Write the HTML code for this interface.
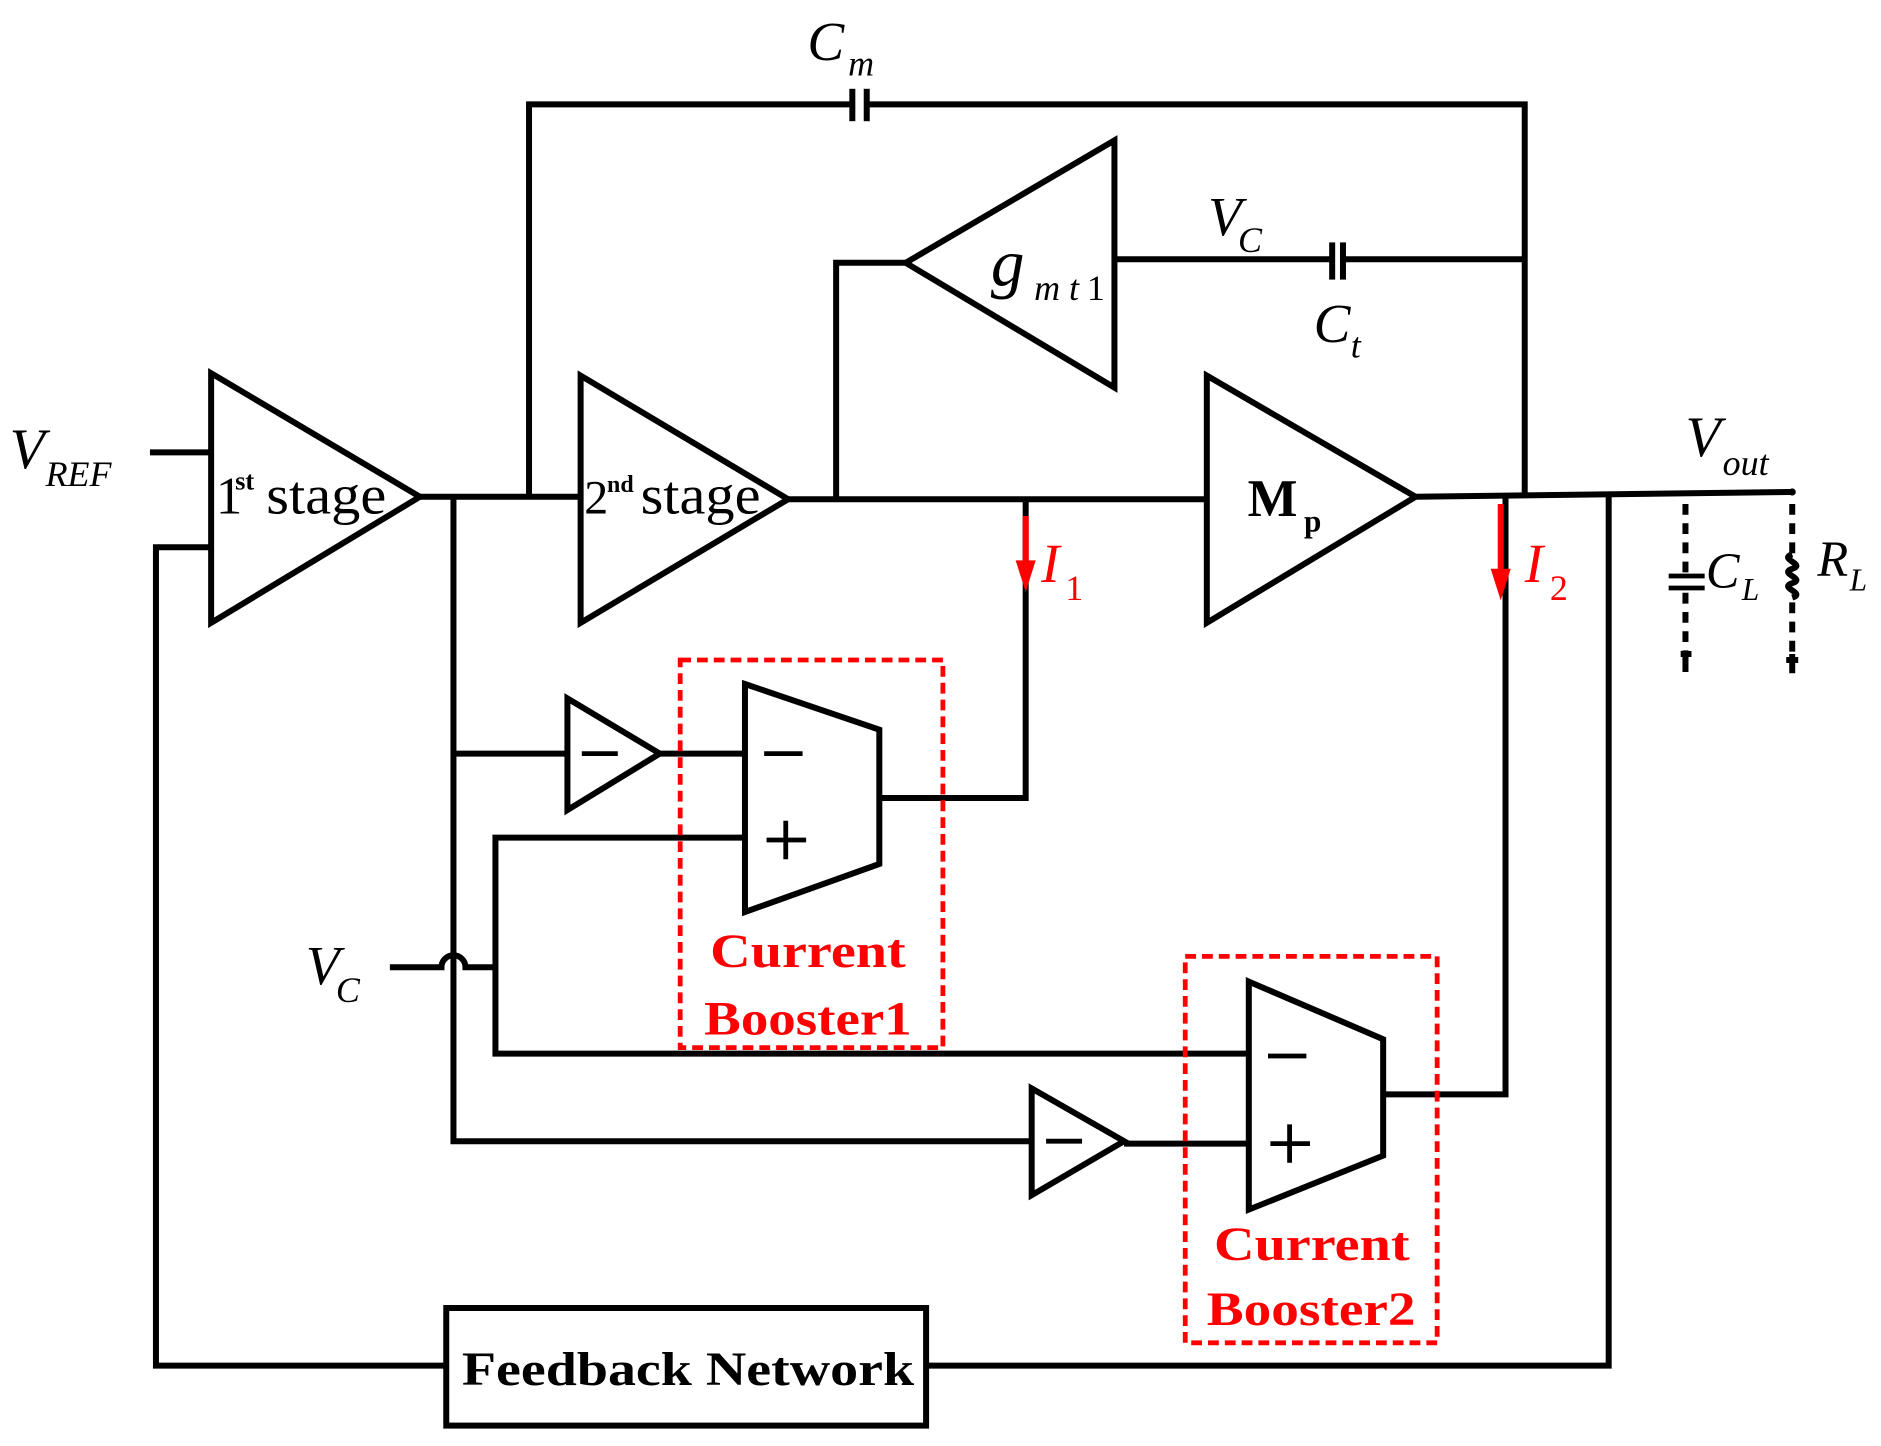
<!DOCTYPE html>
<html><head><style>html,body{margin:0;padding:0;background:#fff}svg{display:block}</style></head>
<body>
<svg width="1881" height="1446" viewBox="0 0 1568 1205" preserveAspectRatio="none" xmlns="http://www.w3.org/2000/svg">
<g fill="none" stroke="#000" stroke-width="5" stroke-linejoin="miter">
<path d="M125 377H176"/>
<path d="M176 456H130V1138H372"/>
<rect x="372" y="1090" width="400" height="98"/>
<path d="M772 1138H1341V412"/>
<path d="M176 311V519L350 414Z"/>
<path d="M350 414H484"/>
<path d="M441 414V87H711"/>
<path d="M724 87H1271V414"/>
<path d="M484 313V519L657 416Z"/>
<path d="M657 416H1006"/>
<path d="M697 416V219H755"/>
<path d="M755 219L929 117V323Z"/>
<path d="M929 216H1109"/>
<path d="M1120 216H1271"/>
<path d="M1006 313V519L1180 414Z"/>
<path d="M1180 414L1494 410"/>
<path d="M855 416V665H733"/>
<path d="M1255 414V912H1153"/>
<path d="M378 414V951H860"/>
<path d="M378 628H473"/>
<path d="M473 582V675L550 628Z"/>
<path d="M550 628H621"/>
<path d="M621 570L733 608V720L621 760Z"/>
<path d="M621 698H413V878H1041"/>
<path d="M325 806H368A10 10 0 0 1 388 806H413"/>
<path d="M1041 818L1153 866V963L1041 1008Z"/>
<path d="M860 907V996L937 951Z"/>
<path d="M937 953H1041"/>
</g>
<g fill="#000">
<rect x="708" y="74" width="5" height="27"/><rect x="720" y="74" width="5" height="27"/>
<rect x="1108" y="202" width="5" height="31"/><rect x="1117" y="202" width="5" height="31"/>
<circle cx="1494" cy="410" r="3"/>
</g>
<g stroke="#000" stroke-width="5" fill="none">
<path d="M1405 420V478M1405 494V555" stroke-dasharray="9 7"/>
<path d="M1391 480H1421M1391 490H1421" stroke-width="4"/>
<path d="M1401 545H1410M1405 548V560"/>
<path d="M1494 420V462M1494 502V548" stroke-dasharray="9 7"/>
<path d="M1494 462c-12 4 12 8 0 12c-12 4 12 8 0 12c-12 4 12 8 0 12" stroke-width="5"/>
<path d="M1489 550H1499M1494 545V561"/>
</g>
<g stroke="#f00" stroke-width="5" fill="#f00">
<path d="M855 430V472"/><path d="M848 468H862L855 490Z" stroke-width="2"/>
<path d="M1251 420V478"/><path d="M1244 475H1258L1251 497Z" stroke-width="2"/>
</g>
<g stroke="#f00" stroke-width="4" fill="none" stroke-dasharray="9 5">
<rect x="567" y="550" width="219" height="323"/>
<rect x="988" y="797" width="210" height="322"/>
</g>
<g font-family="Liberation Serif, serif" fill="#000">
<text x="8" y="390" font-size="48" font-style="italic">V</text>
<text x="38" y="405" font-size="30" font-style="italic">REF</text>
<text x="180" y="428" font-size="44">1</text>
<text x="196" y="408" font-size="22" font-weight="bold">st</text>
<text x="222" y="428" font-size="46" textLength="100" lengthAdjust="spacingAndGlyphs">stage</text>
<text x="487" y="428" font-size="40">2</text>
<text x="506" y="410" font-size="20" font-weight="bold">nd</text>
<text x="534" y="428" font-size="46" textLength="100" lengthAdjust="spacingAndGlyphs">stage</text>
<text x="673" y="50" font-size="46" font-style="italic">C</text>
<text x="707" y="63" font-size="30" font-style="italic">m</text>
<text x="826" y="238" font-size="56" font-style="italic">g</text>
<text x="862" y="250" font-size="30" font-style="italic">m t</text>
<text x="906" y="250" font-size="30">1</text>
<text x="1007" y="196" font-size="46" font-style="italic">V</text>
<text x="1032" y="210" font-size="30" font-style="italic">C</text>
<text x="1095" y="285" font-size="46" font-style="italic">C</text>
<text x="1126" y="298" font-size="30" font-style="italic">t</text>
<text x="1040" y="430" font-size="44" font-weight="bold">M</text>
<text x="1087" y="443" font-size="26" font-weight="bold">p</text>
<text x="1405" y="380" font-size="48" font-style="italic">V</text>
<text x="1436" y="396" font-size="30" font-style="italic">out</text>
<text x="1422" y="490" font-size="42" font-style="italic">C</text>
<text x="1452" y="500" font-size="26" font-style="italic">L</text>
<text x="1515" y="480" font-size="42" font-style="italic">R</text>
<text x="1542" y="492" font-size="26" font-style="italic">L</text>
<text x="255" y="820" font-size="46" font-style="italic">V</text>
<text x="280" y="835" font-size="30" font-style="italic">C</text>
<path d="M485 628H515M637 628H669M1057 880H1089M872 951H902" stroke="#000" stroke-width="4"/>
<path d="M639 700H672M655 684V716M1059 953H1092M1075 937V969" stroke="#000" stroke-width="4"/>
<text x="385" y="1154" font-size="40" font-weight="bold" textLength="377" lengthAdjust="spacingAndGlyphs">Feedback Network</text>
</g>
<g font-family="Liberation Serif, serif" fill="#f00">
<text x="868" y="485" font-size="46" font-style="italic">I</text>
<text x="888" y="500" font-size="30">1</text>
<text x="1271" y="485" font-size="46" font-style="italic">I</text>
<text x="1292" y="500" font-size="30">2</text>
<text x="592" y="806" font-size="40" font-weight="bold" textLength="163" lengthAdjust="spacingAndGlyphs">Current</text>
<text x="587" y="862" font-size="40" font-weight="bold" textLength="173" lengthAdjust="spacingAndGlyphs">Booster1</text>
<text x="1012" y="1050" font-size="40" font-weight="bold" textLength="163" lengthAdjust="spacingAndGlyphs">Current</text>
<text x="1006" y="1104" font-size="40" font-weight="bold" textLength="174" lengthAdjust="spacingAndGlyphs">Booster2</text>
</g>
</svg>
</body></html>
